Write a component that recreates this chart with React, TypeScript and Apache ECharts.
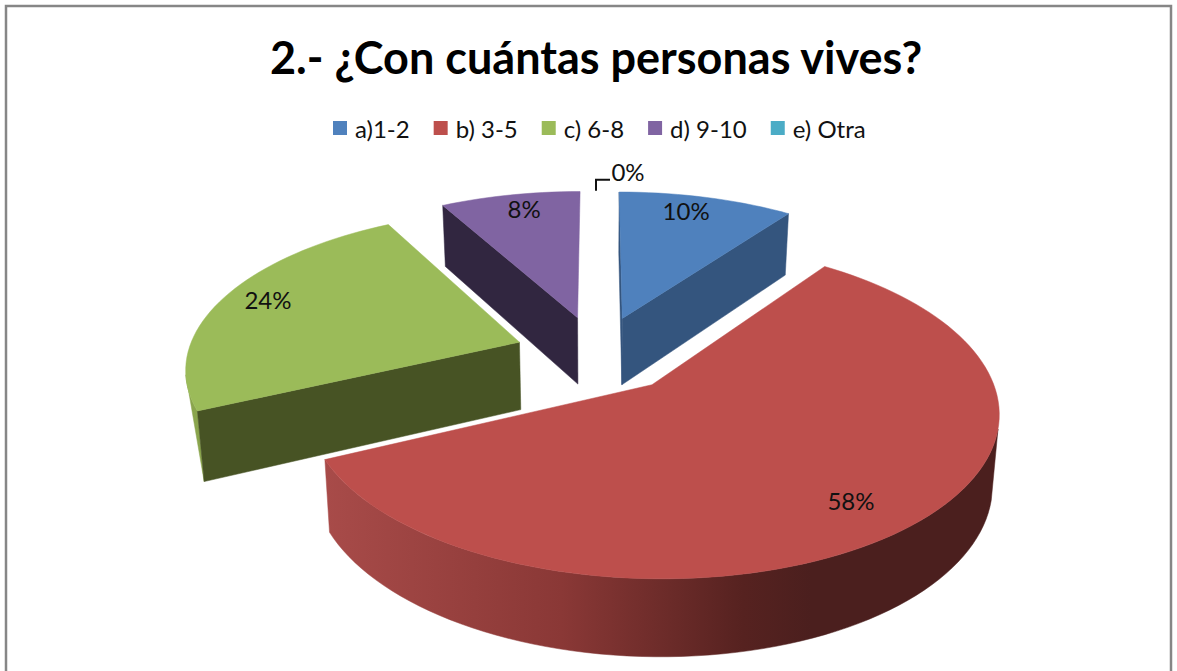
import React, { useEffect, useRef } from "react";
import * as echarts from "echarts";

const titleText = "2.- ¿Con cuántas personas vives?";
const categories = ["a)1-2", "b) 3-5", "c) 6-8", "d) 9-10", "e) Otra"];
const values = [10, 58, 24, 8, 0];
const colors = ["#4f81bd", "#bd4f4c", "#9bbb59", "#8064a2", "#4bacc6"];
const wallColors = ["#34557e", "#4b1f1e", "#475324", "#312640", "#2f6c7d"];
const rimColors = ["#34557e", "#a84b49", "#8aa54d", "#312640", "#2f6c7d"];
const labelNudges = [[-9, -3], [-13, -4], [1, -4], [5, -3], [0, 0]];
const drawOrder = [3, 0, 2, 1, 4];

const FONT = "Lato, Carlito, 'Open Sans', sans-serif";
const CX = 597.5, CY = 354, RX = 332, RY = 155, K = 0.149, EXPLODE = 0.25, DEPTH = 68;
const TOTAL = values.reduce((a, b) => a + b, 0);
const rad = (d: number) => (d * Math.PI) / 180;

type Pt = [number, number];

function project(u: number, v: number, down: boolean): Pt {
  const s = 1 / (1 + K * v);
  const x = CX + RX * u * s;
  const y = CY - RY * v * s;
  if (!down) return [x, y];
  return [CX + (x - CX) * 0.983, y + DEPTH * Math.pow(s, 0.7)];
}

function sliceAngles(i: number) {
  const before = values.slice(0, i).reduce((a, b) => a + b, 0);
  const a0 = (before / TOTAL) * 360;
  const a1 = ((before + values[i]) / TOTAL) * 360;
  return { a0, a1, mid: (a0 + a1) / 2 };
}

function sliceShape(i: number) {
  const { a0, a1, mid } = sliceAngles(i);
  const ex = EXPLODE * Math.sin(rad(mid));
  const ey = EXPLODE * Math.cos(rad(mid));
  const rim = (a: number, down: boolean, r = 1) =>
    project(r * Math.sin(rad(a)) + ex, r * Math.cos(rad(a)) + ey, down);
  const arc = (from: number, to: number, down: boolean) => {
    const pts: Pt[] = [];
    const n = Math.max(1, Math.ceil(Math.abs(to - from) / 2));
    for (let k = 0; k <= n; k++) pts.push(rim(from + ((to - from) * k) / n, down));
    return pts;
  };
  return { a0, a1, mid, rim, arc, apex: project(ex, ey, false), apexDown: project(ex, ey, true) };
}

function renderSlice(i: number) {
  return () => {
    const { a0, a1, mid, rim, arc, apex, apexDown } = sliceShape(i);
    const children: any[] = [];
    if (values[i] > 0) {
      const poly = (points: Pt[], fill: any) => ({
        type: "polygon",
        shape: { points },
        style: { fill, stroke: fill, lineWidth: 0.5 },
      });
      const from = Math.max(a0, 105);
      const to = Math.min(a1, 258);
      if (to > from) {
        const fill =
          to - from > 100
            ? new echarts.graphic.LinearGradient(
                325, 0, 1000, 0,
                [
                  { offset: 0, color: rimColors[i] },
                  { offset: 0.35, color: "#8a3836" },
                  { offset: 0.62, color: "#562220" },
                  { offset: 0.72, color: wallColors[i] },
                  { offset: 1, color: wallColors[i] },
                ],
                true
              )
            : rimColors[i];
        const lower = from > 180 ? [rim(from, true)] : arc(to, from, true);
        children.push(poly([...arc(from, to, false), ...lower], fill));
      }
      if ((a1 > 0 && a1 < 180) || (a0 > 180 && a0 < 360)) {
        const a = a1 < 180 ? a1 : a0;
        children.push(poly([apex, rim(a, false), rim(a, true), apexDown], wallColors[i]));
      }
      if (a0 <= 0.01) {
        children.push(poly([apex, rim(a0, false), rim(a0, true), apexDown], wallColors[i]));
      }
      children.push(poly([apex, ...arc(a0, a1, false)], colors[i]));
    }
    const pct = `${Math.round((values[i] / TOTAL) * 100)}%`;
    const textStyle = (x: number, y: number) => ({
      x, y, text: pct, fill: "#111", font: `24px ${FONT}`, align: "center", verticalAlign: "middle",
    });
    if (values[i] > 0) {
      const [x, y] = rim(mid, false, 0.85);
      children.push({
        type: "text",
        style: textStyle(x + labelNudges[i][0], y + labelNudges[i][1]),
      });
    } else {
      const [x, y] = rim(a1, false);
      const lx = x - 1.5;
      children.push({
        type: "polyline",
        shape: { points: [[lx, y], [lx, y - 11], [lx + 14, y - 11]] },
        style: { stroke: "#111", lineWidth: 2, fill: "none" },
      });
      children.push({ type: "text", style: textStyle(lx + 32, y - 19) });
    }
    return { type: "group", children };
  };
}

export default function App() {
  const ref = useRef<HTMLDivElement>(null);
  useEffect(() => {
    const chart = echarts.init(ref.current!, undefined, { renderer: "svg" });
    chart.setOption({
      animation: false,
      backgroundColor: "#fff",
      title: {
        text: titleText,
        left: 265,
        top: 29,
        textStyle: { fontFamily: FONT, fontWeight: "bold", fontSize: 45, color: "#000" },
      },
      legend: {
        data: categories,
        left: 333,
        top: 116,
        padding: 0,
        icon: "rect",
        itemWidth: 14,
        itemHeight: 14,
        itemGap: 24,
        textStyle: { fontFamily: FONT, fontSize: 24, color: "#111", padding: [0, 0, 3, 3] },
      },
      graphic: [
        {
          type: "rect",
          silent: true,
          z: -1,
          shape: { x: 6, y: 6, width: 1165, height: 700 },
          style: { fill: "none", stroke: "#868686", lineWidth: 2.5 },
        },
      ],
      series: categories.map((name, i) => ({
        type: "custom",
        name,
        coordinateSystem: "none",
        z: 2 + drawOrder.indexOf(i),
        itemStyle: { color: colors[i] },
        renderItem: renderSlice(i),
        data: [[values[i]]],
      })),
    });
    return () => chart.dispose();
  }, []);
  return <div ref={ref} style={{ position: "fixed", left: 0, top: 0, width: 1177, height: 671 }} />;
}
